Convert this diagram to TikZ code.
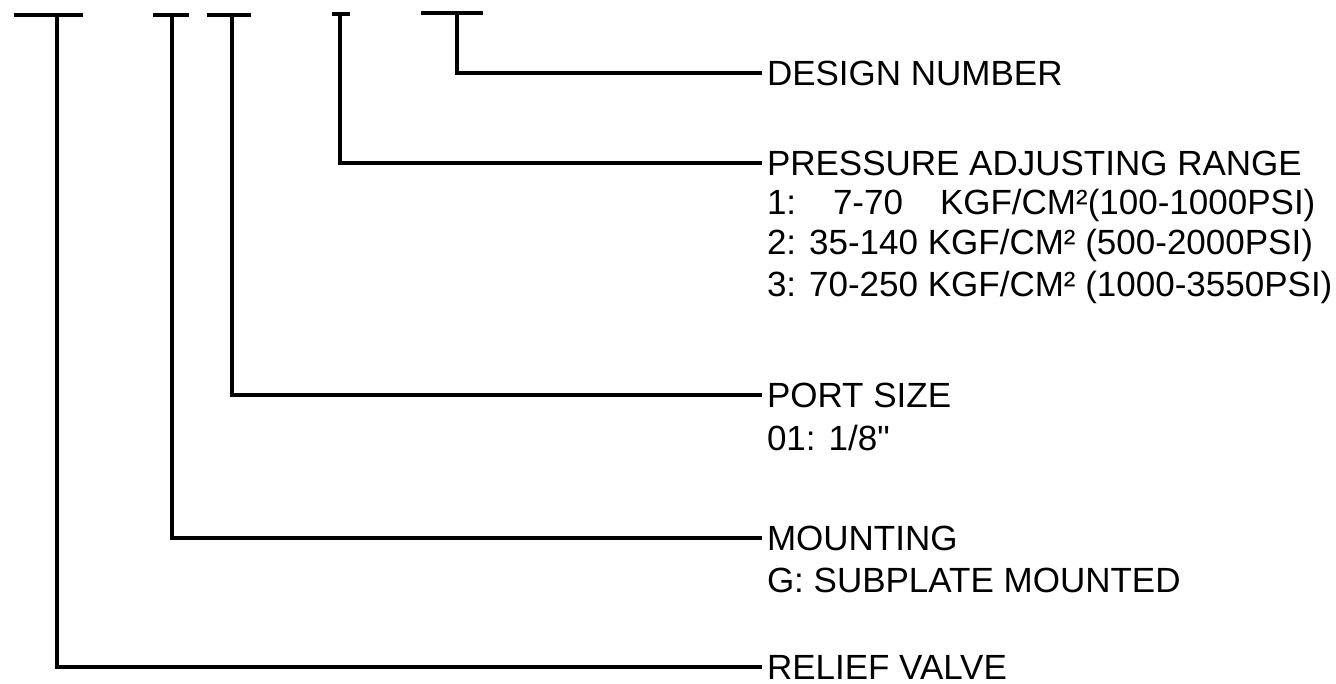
\documentclass[tikz,border=0pt]{standalone}
\usepackage{fontspec}
\setmainfont{Liberation Sans}
\newfontfamily\lsans{Liberation Sans}
\begin{document}
\begin{tikzpicture}[x=1pt,y=-1pt,
  wire/.style={line width=3.2pt,black},
  head/.style={anchor=west,inner xsep=5pt,inner ysep=0pt,outer sep=0pt,font=\lsans\fontsize{35pt}{42pt}\selectfont},
  sub/.style={anchor=base west,inner sep=0pt,outer sep=0pt,font=\lsans\fontsize{35pt}{42pt}\selectfont}]
\useasboundingbox (0,0) rectangle (1336,684);
% tops of the T markers
\coordinate (b1l) at (14,15);  \coordinate (b1r) at (83,15);  \coordinate (t1) at (57,15);
\coordinate (b2l) at (153,15); \coordinate (b2r) at (189,15); \coordinate (t2) at (172,15);
\coordinate (b3l) at (207,15); \coordinate (b3r) at (251,15); \coordinate (t3) at (232,15);
\coordinate (b4l) at (332,14); \coordinate (b4r) at (350,14); \coordinate (t4) at (340,14);
\coordinate (b5l) at (421,13); \coordinate (b5r) at (483,13); \coordinate (t5) at (457,13);
% labels
\node[head] (design) at (762,73) {DESIGN NUMBER};
\node[head] (press) at (762,163) {PRESSURE ADJUSTING RANGE};
\node[sub] (p1a) at (767,215) {1:};
\node[sub] (p1b) at (833,215) {7-70};
\node[sub] (p1c) at (940,215) {KGF/CM²(100-1000PSI)};
\node[sub] (p2) at (767,255) {2: 35-140 KGF/CM² (500-2000PSI)};
\node[sub] (p3) at (767,297) {3: 70-250 KGF/CM² (1000-3550PSI)};
\node[head] (port) at (762,395) {PORT SIZE};
\node[sub] (port1) at (767,450) {01: 1/8"};
\node[head] (mount) at (762,538) {MOUNTING};
\node[sub] (mount1) at (767,592) {G: SUBPLATE MOUNTED};
\node[head] (relief) at (762,667) {RELIEF VALVE};
% bars
\draw[wire] (b1l) -- (b1r);
\draw[wire] (b2l) -- (b2r);
\draw[wire] (b3l) -- (b3r);
\draw[wire] (b4l) -- (b4r);
\draw[wire] (b5l) -- (b5r);
% connectors
\draw[wire] (t1) |- (relief.west);
\draw[wire] (t2) |- (mount.west);
\draw[wire] (t3) |- (port.west);
\draw[wire] (t4) |- (press.west);
\draw[wire] (t5) |- (design.west);
\end{tikzpicture}
\end{document}
